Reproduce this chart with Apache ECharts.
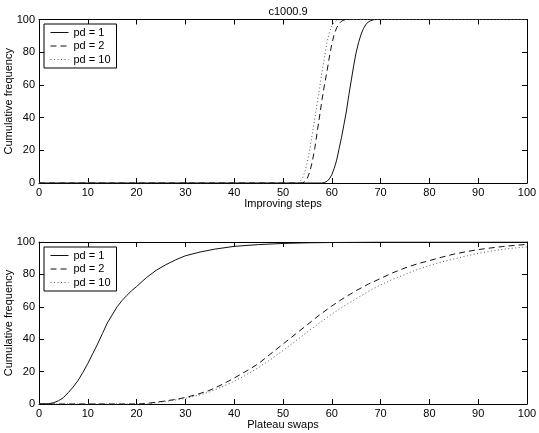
<!DOCTYPE html>
<html><head><meta charset="utf-8">
<script src="https://cdn.jsdelivr.net/npm/echarts@6/dist/echarts.min.js"></script>
<style>html,body{margin:0;padding:0;background:#fff}#c{width:539px;height:433px}</style>
</head><body><div id="c"></div>
<script>
// Tick labels
var xTicks = [0,10,20,30,40,50,60,70,80,90,100];
var yTicks = [0,20,40,60,80,100];
var seriesNames = ['pd = 1','pd = 2','pd = 10'];

// Top panel: Improving steps
var imp_pd1_x = [0,58,58.5,59,59.5,60,60.5,61,61.5,62,62.5,63,63.5,64,64.5,65,65.5,66,66.5,67,67.5,68,68.5,69,100];
var imp_pd1_y = [0,0,0.3,1,2.5,5,9,14,21,28,36,44,54,63,72,80,86,91,94.5,97,98.5,99.3,99.8,100,100];
var imp_pd2_x = [0,54,54.5,55,55.5,56,56.5,57,57.5,58,58.5,59,59.5,60,60.5,61,61.5,62,62.5,63,100];
var imp_pd2_y = [0,0,1,3,7,13,21,31,41,51,60,68,77,85,91,95,97.5,99,99.7,100,100];
var imp_pd10_x = [0,53,53.5,54,54.5,55,55.5,56,56.5,57,57.5,58,58.5,59,59.5,60,60.5,61,61.5,62,100];
var imp_pd10_y = [0,0,1,3,7,13,21,30,39,49,58,68,77,86,92,96,98.3,99.4,99.8,100,100];

// Bottom panel: Plateau swaps
var pla_pd1_x = [0,2,3,4,5,6,7,8,9,10,11,12,13,14,15,16,17,18,19,20,22,24,26,28,30,33,36,40,45,50,55,60,70,100];
var pla_pd1_y = [0,0.2,0.8,2,4,7,10.5,14.5,19.5,25,31,37,43.5,50,55,60,63.8,67,70,72.5,78,82.5,86,89,91.5,93.8,95.6,97.3,98.4,99.1,99.5,99.7,100,100];
var pla_pd2_x = [0,20,22,25,27.5,30,32.5,35,37.5,40,42.5,45,47.5,50,52.5,55,57.5,60,62.5,65,67.5,70,72.5,75,77.5,80,82.5,85,87.5,90,92.5,95,97.5,100];
var pla_pd2_y = [0,0,0.3,1.5,2.6,4,6,8.5,12,16,20.3,25,31,37,43,49,55,60.5,65.5,70,74,77.5,81,84,86.5,88.5,90.6,92.5,94,95.3,96.3,97.2,97.9,98.5];
var pla_pd10_x = [0,22,25,27.5,30,32.5,35,37.5,40,42.5,45,47.5,50,52.5,55,57.5,60,62.5,65,67.5,70,72.5,75,77.5,80,82.5,85,87.5,90,92.5,95,97.5,100];
var pla_pd10_y = [0,0,1.2,2.2,3.5,5.3,7.5,10.5,14,18,22.5,27.5,33,38.7,44.5,50,55.5,60.5,65,69.5,73.5,77,80,83,85.5,87.7,89.5,91.3,93,94.3,95.5,96.3,97];

function zip(a,b){return a.map(function(v,i){return [v,b[i]];});}

var FONT = 'Liberation Sans, Arial, Helvetica, sans-serif';
var lineStyles = [
  {color:'#111', width:1, type:'solid'},
  {color:'#111', width:1, type:[6,4]},
  {color:'#555', width:1, type:[1,2.5]}
];

function xAx(grid, pos, show, name){
  return {type:'value', gridIndex:grid, position:pos, min:0, max:100, interval:10,
    name: name||'', nameLocation:'middle', nameGap:15, nameMoveOverlap:false,
    nameTextStyle:{color:'#000', fontSize:11, fontFamily:FONT},
    axisLine:{show:true, onZero:false, lineStyle:{color:'#000', width:1}},
    axisTick:{show:true, inside:true, length:5, lineStyle:{color:'#000'}},
    axisLabel:{show:show, color:'#000', fontSize:11, fontFamily:FONT, margin:4},
    splitLine:{show:false}};
}
function yAx(grid, pos, show, name){
  return {type:'value', gridIndex:grid, position:pos, min:0, max:100, interval:20,
    name: name||'', nameLocation:'middle', nameGap:25, nameMoveOverlap:false,
    nameTextStyle:{color:'#000', fontSize:11, fontFamily:FONT},
    axisLine:{show:true, onZero:false, lineStyle:{color:'#000', width:1}},
    axisTick:{show:true, inside:true, length:5, lineStyle:{color:'#000'}},
    axisLabel:{show:show, color:'#000', fontSize:11, fontFamily:FONT, margin:4},
    splitLine:{show:false}};
}
function ser(name, data, xi, yi, k){
  return {type:'line', name:name, data:data, xAxisIndex:xi, yAxisIndex:yi,
    showSymbol:false, symbol:'none', smooth:false,
    lineStyle:lineStyles[k], itemStyle:{color:lineStyles[k].color},
    animation:false, z:3};
}
function leg(top){
  return {left:44, top:top, orient:'vertical', data:seriesNames,
    backgroundColor:'#fff', borderColor:'#000', borderWidth:1,
    padding:[3,6,3,6], itemGap:2.5, itemWidth:18, itemHeight:10,
    itemStyle:{opacity:0}, lineStyle:{width:1},
    textStyle:{color:'#000', fontSize:11, fontFamily:FONT},
    selectedMode:false, z:10};
}

var chart = echarts.init(document.getElementById('c'), null, {renderer:'canvas'});
chart.setOption({
  animation:false,
  backgroundColor:'#fff',
  title:{text:'c1000.9', left:283, top:1, textAlign:'center',
    textStyle:{color:'#000', fontSize:11, fontWeight:'normal', fontFamily:FONT}},
  grid:[
    {left:39, right:12, top:19.5, height:163.5, outerBoundsMode:'none', containLabel:false},
    {left:39, right:12, top:242, height:162, outerBoundsMode:'none', containLabel:false}
  ],
  xAxis:[xAx(0,'bottom',true,'Improving steps'), xAx(0,'top',false),
         xAx(1,'bottom',true,'Plateau swaps'), xAx(1,'top',false)],
  yAxis:[yAx(0,'left',true,'Cumulative frequency'), yAx(0,'right',false),
         yAx(1,'left',true,'Cumulative frequency'), yAx(1,'right',false)],
  legend:[leg(24), leg(247)],
  series:[
    ser(seriesNames[0], zip(imp_pd1_x, imp_pd1_y), 0, 0, 0),
    ser(seriesNames[1], zip(imp_pd2_x, imp_pd2_y), 0, 0, 1),
    ser(seriesNames[2], zip(imp_pd10_x, imp_pd10_y), 0, 0, 2),
    ser(seriesNames[0], zip(pla_pd1_x, pla_pd1_y), 2, 2, 0),
    ser(seriesNames[1], zip(pla_pd2_x, pla_pd2_y), 2, 2, 1),
    ser(seriesNames[2], zip(pla_pd10_x, pla_pd10_y), 2, 2, 2)
  ]
});
</script></body></html>
